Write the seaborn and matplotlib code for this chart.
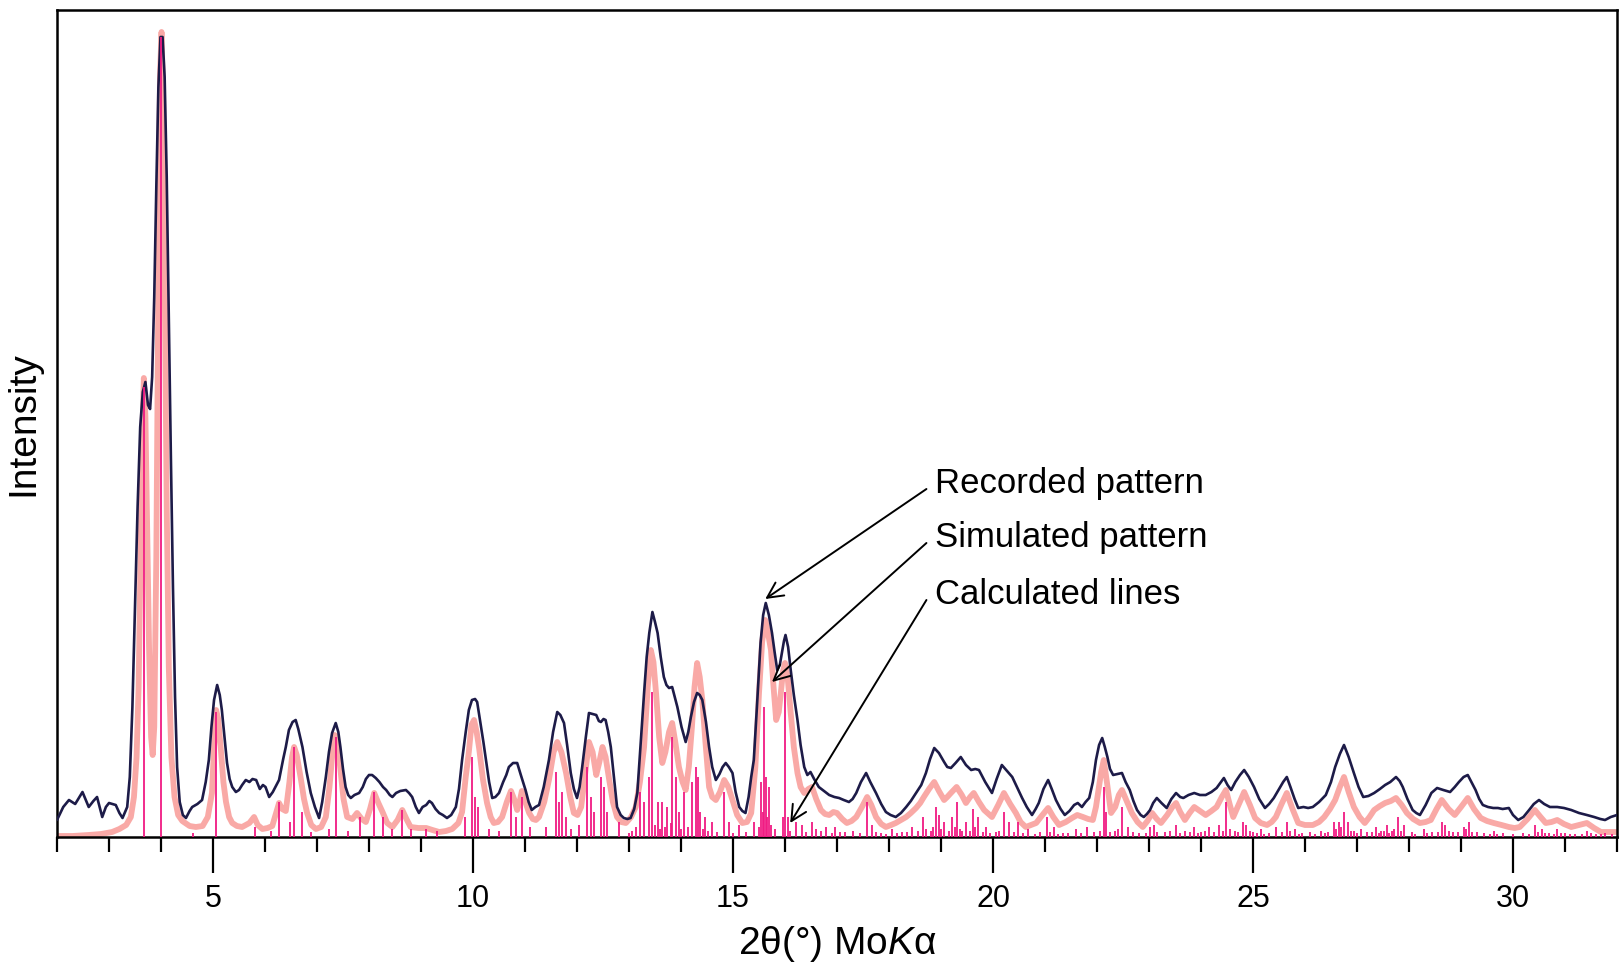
# Powder XRD: recorded vs simulated pattern with calculated reflection lines
import numpy as np
import matplotlib
matplotlib.use("Agg")
import matplotlib.pyplot as plt
from matplotlib.ticker import MultipleLocator
import seaborn as sns

# Recorded pattern (2theta in degrees, intensity in arbitrary units)
rec_theta = [2.00, 2.12, 2.23, 2.35, 2.49, 2.61, 2.70, 2.77, 2.87, 2.94, 3.00, 3.13, 3.20, 3.26,
             3.35, 3.40, 3.45, 3.50, 3.55, 3.60, 3.65, 3.70, 3.75, 3.79, 3.83, 3.87, 3.91, 3.95,
             3.99, 4.03, 4.07, 4.11, 4.15, 4.19, 4.23, 4.27, 4.31, 4.36, 4.42, 4.48,
             4.55, 4.60, 4.70, 4.79, 4.86, 4.92, 4.97, 5.02, 5.08, 5.13, 5.17, 5.22, 5.27, 5.32,
             5.37, 5.44, 5.50, 5.56, 5.63, 5.70, 5.76, 5.83, 5.90, 5.96, 6.01, 6.08, 6.15, 6.22,
             6.27, 6.35, 6.40, 6.46, 6.53, 6.59, 6.64, 6.72, 6.80, 6.88, 6.96, 7.04, 7.10, 7.17,
             7.23, 7.29, 7.36, 7.41, 7.45, 7.50, 7.55, 7.60, 7.65, 7.72, 7.81, 7.88, 7.94, 8.00,
             8.06, 8.13, 8.20, 8.27, 8.33, 8.40, 8.45, 8.52, 8.60, 8.71, 8.77, 8.83, 8.90, 8.96,
             9.03, 9.10, 9.16, 9.21, 9.28, 9.35, 9.42, 9.50, 9.58, 9.67, 9.73, 9.79, 9.86, 9.92,
             9.98, 10.04, 10.08, 10.14, 10.20, 10.25, 10.31, 10.37, 10.43, 10.50, 10.58, 10.64,
             10.69, 10.77, 10.85, 10.92, 11.01, 11.07, 11.13, 11.20, 11.27, 11.36, 11.46, 11.54,
             11.62, 11.68, 11.75, 11.81, 11.88, 11.94, 12.00, 12.05, 12.10, 12.17, 12.23, 12.30,
             12.37, 12.42, 12.46, 12.51, 12.55, 12.60, 12.65, 12.71, 12.77, 12.84, 12.90, 12.97,
             13.03, 13.10, 13.16, 13.22, 13.29, 13.34, 13.39, 13.45, 13.50, 13.55, 13.61, 13.67,
             13.72, 13.77, 13.83, 13.88, 13.93, 14.01, 14.09, 14.14, 14.19, 14.25, 14.31, 14.36,
             14.41, 14.48, 14.54, 14.60, 14.67, 14.74, 14.80, 14.86, 14.92, 14.99, 15.05, 15.12,
             15.18, 15.24, 15.30, 15.35, 15.40, 15.46, 15.53, 15.58, 15.63, 15.69, 15.75, 15.80,
             15.85, 15.90, 15.94, 15.98, 16.01, 16.06, 16.11, 16.17, 16.24, 16.30, 16.37, 16.43,
             16.49, 16.56, 16.65, 16.75, 16.85, 16.95, 17.04, 17.13, 17.23, 17.30, 17.37, 17.46,
             17.56, 17.64, 17.75, 17.85, 17.94, 18.03, 18.13, 18.23, 18.33, 18.42, 18.52, 18.62,
             18.71, 18.79, 18.87, 18.96, 19.06, 19.12, 19.19, 19.28, 19.38, 19.48, 19.58, 19.66,
             19.73, 19.85, 19.98, 20.07, 20.17, 20.27, 20.37, 20.46, 20.56, 20.65, 20.75, 20.82,
             20.88, 20.97, 21.06, 21.13, 21.21, 21.30, 21.38, 21.47, 21.56, 21.63, 21.71, 21.78,
             21.85, 21.92, 21.98, 22.04, 22.10, 22.15, 22.20, 22.25, 22.31, 22.40, 22.48, 22.55,
             22.63, 22.70, 22.77, 22.84, 22.90, 22.96, 23.02, 23.08, 23.15, 23.24, 23.34, 23.43,
             23.52, 23.60, 23.66, 23.76, 23.87, 23.98, 24.09, 24.20, 24.30, 24.37, 24.44, 24.51,
             24.58, 24.66, 24.75, 24.83, 24.92, 25.02, 25.12, 25.23, 25.31, 25.40, 25.50, 25.58,
             25.65, 25.72, 25.80, 25.87, 25.97, 26.06, 26.15, 26.27, 26.40, 26.50, 26.58, 26.67,
             26.75, 26.84, 26.94, 27.03, 27.12, 27.22, 27.33, 27.44, 27.54, 27.64, 27.75, 27.82,
             27.88, 27.97, 28.07, 28.14, 28.21, 28.32, 28.43, 28.54, 28.66, 28.79, 28.88, 28.96,
             29.05, 29.13, 29.20, 29.28, 29.35, 29.42, 29.52, 29.62, 29.71, 29.80, 29.92, 30.00,
             30.10, 30.20, 30.31, 30.40, 30.50, 30.60, 30.71, 30.85, 30.98, 31.12, 31.27, 31.42,
             31.56, 31.68, 31.77, 31.88, 32.00]
rec_int = [17, 30, 37, 33, 45, 30, 36, 40, 20, 30, 34, 32, 24, 19,
           30, 60, 130, 230, 330, 410, 445, 455, 432, 428, 460, 540, 650, 750,
           800, 800, 760, 660, 520, 380, 250, 140, 70, 35, 22, 19,
           26, 30, 33, 37, 55, 77, 110, 137, 152, 142, 127, 100, 74, 58,
           50, 45, 47, 52, 57, 55, 58, 57, 48, 52, 50, 40, 45, 52,
           57, 78, 90, 107, 115, 117, 108, 90, 65, 44, 30, 19, 35, 60,
           85, 104, 114, 105, 90, 68, 50, 42, 39, 42, 44, 50, 58, 62,
           62, 59, 55, 50, 47, 42, 40, 44, 46, 47, 44, 40, 30, 24,
           30, 32, 36, 34, 28, 24, 22, 19, 22, 30, 48, 77, 105, 127,
           137, 138, 135, 115, 95, 77, 55, 39, 40, 44, 55, 62,
           70, 74, 74, 62, 47, 35, 27, 30, 32, 50, 77, 105,
           125, 122, 114, 92, 64, 48, 39, 50, 70, 100, 124, 123,
           122, 116, 115, 118, 117, 105, 90, 60, 30, 22, 19, 18,
           19, 28, 44, 90, 144, 180, 204, 225, 215, 204, 180, 160,
           152, 149, 150, 140, 130, 110, 95, 105, 120, 135, 144, 142,
           137, 115, 90, 70, 57, 63, 70, 74, 70, 64, 45, 30,
           26, 24, 40, 60, 77, 130, 194, 222, 234, 222, 204, 185,
           167, 172, 184, 196, 202, 190, 167, 142, 117, 92, 70, 62,
           65, 58, 50, 46, 42, 40, 39, 37, 35, 38, 44, 55,
           64, 55, 44, 33, 25, 22, 20, 24, 30, 36, 44, 52,
           64, 78, 89, 84, 75, 70, 69, 74, 80, 72, 67, 68,
           67, 55, 44, 58, 72, 66, 60, 50, 39, 30, 22, 28,
           34, 48, 57, 48, 37, 28, 22, 26, 32, 34, 30, 35,
           39, 55, 77, 92, 99, 90, 80, 68, 62, 63, 64, 55,
           47, 36, 27, 22, 20, 23, 27, 34, 39, 34, 29, 38,
           44, 40, 39, 42, 44, 42, 42, 45, 49, 54, 59, 52,
           47, 55, 62, 67, 60, 50, 38, 29, 33, 39, 48, 55,
           60, 50, 38, 29, 30, 29, 30, 35, 42, 55, 70, 83,
           92, 80, 64, 50, 40, 41, 44, 48, 52, 55, 60, 56,
           50, 38, 27, 24, 22, 32, 44, 49, 47, 45, 50, 55,
           60, 62, 55, 47, 38, 32, 30, 29, 29, 28, 29, 22,
           17, 20, 27, 33, 37, 33, 30, 30, 29, 27, 24, 22,
           20, 18, 17, 20, 22]

# Simulated pattern
sim_theta = [2.00, 2.30, 2.61, 2.85, 3.06, 3.20, 3.33, 3.42, 3.48, 3.53, 3.57, 3.61, 3.64, 3.67,
             3.70, 3.73, 3.77, 3.81, 3.84, 3.87, 3.91, 3.95, 3.98, 4.01, 4.04, 4.07, 4.11, 4.15,
             4.20, 4.26, 4.33, 4.41, 4.55, 4.67, 4.80, 4.90, 4.98, 5.02, 5.06, 5.10, 5.15, 5.20,
             5.25, 5.31, 5.37, 5.46, 5.56, 5.70, 5.79, 5.86, 5.95, 6.05, 6.14, 6.22, 6.27, 6.33,
             6.40, 6.47, 6.52, 6.56, 6.61, 6.69, 6.75, 6.81, 6.89, 6.98, 7.08, 7.17, 7.24, 7.29,
             7.34, 7.38, 7.45, 7.51, 7.58, 7.68, 7.77, 7.86, 7.94, 8.02, 8.10, 8.18, 8.26, 8.35,
             8.45, 8.55, 8.64, 8.72, 8.80, 8.95, 9.10, 9.22, 9.35, 9.48, 9.60, 9.72, 9.79, 9.86,
             9.92, 9.97, 10.02, 10.07, 10.12, 10.19, 10.27, 10.34, 10.40, 10.48, 10.56, 10.65,
             10.73, 10.79, 10.85, 10.90, 10.94, 11.00, 11.08, 11.15, 11.21, 11.27, 11.37, 11.46,
             11.55, 11.62, 11.70, 11.79, 11.87, 11.94, 12.01, 12.08, 12.15, 12.23, 12.30, 12.37,
             12.43, 12.49, 12.55, 12.62, 12.69, 12.77, 12.85, 12.94, 13.04, 13.13, 13.21, 13.29,
             13.36, 13.42, 13.47, 13.52, 13.58, 13.64, 13.70, 13.77, 13.83, 13.89, 13.96, 14.03,
             14.09, 14.15, 14.21, 14.26, 14.31, 14.36, 14.41, 14.47, 14.54, 14.60, 14.67, 14.75,
             14.83, 14.91, 14.99, 15.08, 15.18, 15.27, 15.35, 15.43, 15.50, 15.56, 15.62, 15.67,
             15.73, 15.78, 15.83, 15.88, 15.92, 15.96, 16.00, 16.05, 16.11, 16.17, 16.24, 16.30,
             16.37, 16.45, 16.52, 16.60, 16.69, 16.77, 16.85, 16.93, 17.00, 17.10, 17.19, 17.28,
             17.37, 17.48, 17.58, 17.66, 17.75, 17.85, 17.94, 18.04, 18.13, 18.23, 18.33, 18.42,
             18.52, 18.60, 18.67, 18.77, 18.87, 18.96, 19.06, 19.12, 19.19, 19.30, 19.40, 19.48,
             19.56, 19.63, 19.73, 19.83, 19.98, 20.10, 20.21, 20.33, 20.44, 20.53, 20.63, 20.73,
             20.83, 20.95, 21.06, 21.16, 21.27, 21.40, 21.52, 21.62, 21.73, 21.83, 21.92, 21.98,
             22.02, 22.08, 22.13, 22.19, 22.27, 22.35, 22.42, 22.48, 22.57, 22.67, 22.78, 22.88,
             22.97, 23.06, 23.15, 23.23, 23.35, 23.45, 23.52, 23.60, 23.69, 23.78, 23.87, 23.98,
             24.09, 24.20, 24.30, 24.40, 24.48, 24.55, 24.62, 24.72, 24.83, 24.94, 25.04, 25.15,
             25.27, 25.36, 25.44, 25.55, 25.65, 25.76, 25.87, 26.00, 26.15, 26.27, 26.37, 26.48,
             26.58, 26.67, 26.75, 26.84, 26.94, 27.05, 27.15, 27.24, 27.33, 27.44, 27.54, 27.65,
             27.75, 27.86, 27.96, 28.08, 28.21, 28.32, 28.42, 28.53, 28.63, 28.76, 28.88, 29.00,
             29.13, 29.25, 29.38, 29.50, 29.63, 29.78, 29.92, 30.03, 30.13, 30.28, 30.42, 30.53,
             30.63, 30.74, 30.85, 30.98, 31.12, 31.27, 31.42, 31.56, 31.69, 31.85, 32.00]
sim_int = [1, 1, 2, 3, 5, 8, 12, 20, 40, 80, 150, 290, 400, 459,
           420, 320, 190, 100, 82, 110, 280, 560, 760, 805, 740, 560, 330, 170,
           80, 40, 22, 16, 11, 10, 11, 20, 44, 90, 127, 118, 88, 55,
           35, 20, 14, 11, 10, 14, 20, 12, 8, 9, 11, 25, 34, 28,
           26, 55, 80, 90, 82, 58, 38, 24, 12, 8, 10, 20, 50, 80,
           102, 100, 68, 38, 20, 18, 24, 18, 15, 28, 44, 34, 25, 14,
           10, 17, 27, 18, 10, 9, 9, 7, 5, 6, 8, 14, 25, 60,
           85, 112, 117, 105, 88, 58, 34, 20, 14, 15, 20, 35,
           46, 38, 27, 36, 46, 36, 24, 18, 17, 20, 35, 57,
           85, 95, 85, 64, 40, 24, 22, 30, 60, 95, 85, 62,
           75, 90, 80, 57, 35, 20, 15, 14, 20, 30, 55, 90,
           150, 187, 175, 144, 100, 74, 85, 105, 114, 95, 70, 55,
           47, 70, 110, 150, 174, 160, 137, 95, 50, 40, 37, 45,
           57, 50, 37, 22, 14, 15, 24, 70, 144, 195, 217, 205,
           187, 150, 117, 125, 144, 165, 174, 160, 124, 90, 64, 50,
           44, 48, 50, 38, 27, 23, 22, 25, 24, 18, 14, 16,
           20, 30, 40, 32, 20, 13, 10, 12, 14, 17, 20, 24,
           29, 34, 40, 48, 55, 46, 37, 40, 44, 50, 42, 34,
           40, 44, 35, 27, 20, 32, 44, 33, 24, 15, 10, 12,
           14, 22, 29, 20, 12, 15, 19, 22, 20, 18, 17, 30,
           44, 65, 77, 55, 24, 30, 42, 47, 36, 24, 15, 10,
           16, 24, 18, 14, 22, 30, 34, 25, 17, 24, 30, 26,
           22, 26, 30, 40, 47, 33, 20, 32, 45, 32, 19, 14,
           12, 15, 20, 33, 44, 28, 14, 12, 12, 15, 20, 28,
           37, 50, 60, 45, 30, 20, 14, 20, 27, 31, 34, 36,
           39, 32, 24, 18, 14, 15, 17, 28, 37, 28, 22, 30,
           39, 28, 19, 16, 14, 12, 10, 9, 10, 18, 27, 20,
           14, 15, 17, 13, 10, 12, 14, 9, 5, 5, 5]

# Calculated reflection positions and heights
line_theta = [3.68, 4.00, 4.62, 5.06, 5.80, 6.12, 6.27, 6.48, 6.56, 6.72, 6.88, 7.24, 7.36, 7.60,
              7.82, 8.10, 8.27, 8.45, 8.64, 8.80, 9.10, 9.30, 9.84, 9.98, 10.03, 10.10, 10.30,
              10.50, 10.73, 10.82, 10.94, 11.10, 11.40, 11.59, 11.65, 11.72, 11.78, 11.88, 12.04,
              12.20, 12.26, 12.33, 12.46, 12.52, 12.58, 12.81, 13.00, 13.05, 13.13, 13.22, 13.29,
              13.39, 13.45, 13.50, 13.55, 13.60, 13.64, 13.70, 13.74, 13.80, 13.83, 13.90, 13.96,
              14.00, 14.06, 14.13, 14.22, 14.28, 14.33, 14.37, 14.42, 14.47, 14.52, 14.60, 14.70,
              14.83, 14.92, 15.00, 15.12, 15.25, 15.40, 15.50, 15.53, 15.57, 15.59, 15.63, 15.66,
              15.69, 15.73, 15.80, 15.96, 16.00, 16.05, 16.10, 16.21, 16.33, 16.40, 16.52, 16.59,
              16.70, 16.78, 16.90, 16.97, 17.05, 17.15, 17.30, 17.45, 17.58, 17.68, 17.75, 17.85,
              17.95, 18.06, 18.15, 18.25, 18.35, 18.45, 18.55, 18.65, 18.72, 18.80, 18.85, 18.90,
              18.97, 19.00, 19.06, 19.15, 19.22, 19.26, 19.31, 19.36, 19.40, 19.48, 19.55, 19.61,
              19.66, 19.71, 19.80, 19.87, 19.95, 20.05, 20.12, 20.21, 20.30, 20.40, 20.49, 20.58,
              20.68, 20.80, 20.90, 21.03, 21.10, 21.17, 21.25, 21.35, 21.45, 21.59, 21.70, 21.80,
              21.95, 22.05, 22.13, 22.17, 22.25, 22.35, 22.40, 22.48, 22.59, 22.70, 22.80, 22.95,
              23.02, 23.09, 23.15, 23.30, 23.40, 23.52, 23.60, 23.70, 23.78, 23.87, 23.95, 24.00,
              24.08, 24.16, 24.25, 24.34, 24.42, 24.48, 24.55, 24.65, 24.72, 24.80, 24.87, 24.95,
              25.00, 25.08, 25.16, 25.22, 25.30, 25.44, 25.55, 25.65, 25.72, 25.80, 25.88, 25.95,
              26.10, 26.20, 26.30, 26.38, 26.45, 26.55, 26.60, 26.65, 26.70, 26.75, 26.82, 26.88,
              26.95, 27.00, 27.07, 27.20, 27.28, 27.36, 27.42, 27.47, 27.52, 27.57, 27.62, 27.68,
              27.72, 27.79, 27.84, 27.90, 28.05, 28.12, 28.28, 28.35, 28.45, 28.55, 28.63, 28.70,
              28.77, 28.85, 28.95, 29.06, 29.10, 29.16, 29.22, 29.30, 29.45, 29.55, 29.63, 29.70,
              29.80, 30.00, 30.20, 30.30, 30.42, 30.48, 30.56, 30.62, 30.70, 30.78, 30.85, 30.92,
              31.00, 31.10, 31.20, 31.32, 31.42, 31.50, 31.60, 31.70, 31.77, 31.90]
line_int = [450, 800, 4, 125, 10, 6, 35, 15, 90, 25, 5, 8, 100, 6,
            20, 45, 20, 8, 27, 8, 8, 6, 20, 80, 40, 30, 8,
            6, 45, 20, 40, 10, 10, 65, 35, 45, 20, 8, 12,
            70, 40, 25, 60, 50, 25, 15, 4, 6, 10, 45, 35,
            60, 145, 12, 35, 8, 35, 10, 30, 14, 100, 60, 25,
            8, 45, 10, 55, 70, 60, 25, 8, 20, 6, 15, 5,
            45, 15, 4, 12, 5, 15, 10, 55, 25, 130, 60, 20,
            50, 12, 8, 20, 145, 20, 6, 15, 12, 5, 15, 8,
            6, 10, 4, 10, 5, 5, 6, 4, 35, 12, 5, 4,
            3, 8, 4, 5, 5, 10, 6, 20, 8, 6, 10, 30,
            22, 8, 15, 6, 20, 10, 35, 8, 6, 15, 6, 28,
            10, 20, 5, 10, 4, 5, 6, 25, 15, 5, 15, 4,
            8, 3, 5, 20, 5, 10, 3, 4, 4, 8, 4, 10,
            5, 6, 50, 25, 5, 6, 8, 30, 10, 5, 4, 4,
            10, 12, 5, 5, 6, 12, 4, 6, 5, 10, 4, 5,
            6, 10, 5, 12, 6, 35, 8, 6, 5, 15, 12, 6,
            5, 4, 8, 3, 4, 10, 5, 15, 6, 8, 3, 4,
            5, 3, 6, 4, 5, 15, 8, 15, 10, 25, 15, 6,
            6, 4, 8, 5, 5, 10, 4, 6, 6, 12, 4, 6,
            8, 20, 6, 12, 5, 3, 8, 4, 5, 5, 15, 12,
            6, 5, 5, 10, 8, 15, 5, 5, 4, 3, 6, 3,
            4, 3, 4, 3, 12, 5, 8, 4, 4, 3, 8, 4,
            4, 3, 3, 3, 6, 4, 3, 3, 4, 3]

ticks = [5, 10, 15, 20, 25, 30]

sns.set_theme(style="white")
plt.rcParams['font.family'] = ['Liberation Sans', 'DejaVu Sans']
plt.rcParams['mathtext.fontset'] = 'custom'
plt.rcParams['mathtext.rm'] = 'Liberation Sans'
plt.rcParams['mathtext.it'] = 'Liberation Sans:italic'

fig = plt.figure(figsize=(16.2, 9.75), dpi=100)
ax = fig.add_axes([57 / 1620, 138 / 975, 1560 / 1620, 827 / 975])

# simulated pattern as a thick light pink curve
sns.lineplot(x=sim_theta, y=sim_int, ax=ax, color='#f9a9a6', lw=4.2,
             estimator=None, sort=False, zorder=2)
# recorded pattern
sns.lineplot(x=rec_theta, y=rec_int, ax=ax, color='#1d1b48', lw=1.9,
             estimator=None, sort=False, zorder=3)
# calculated lines as sticks
ax.vlines(line_theta, 0, line_int, colors='#f01a82', lw=1.3, zorder=4)

ax.set_xlim(2, 32)
ax.set_ylim(0, 827)
ax.set_xticks(ticks)
ax.set_xticklabels([str(t) for t in ticks])
ax.xaxis.set_minor_locator(MultipleLocator(1))
ax.set_yticks([])
ax.tick_params(axis='x', which='major', direction='out', length=26, width=1.6,
               pad=8, labelsize=22, bottom=True, color='black', labelcolor='black')
ax.tick_params(axis='x', which='minor', direction='out', length=10.5, width=1.6,
               bottom=True, color='black')
for s in ax.spines.values():
    s.set_color('black')
    s.set_linewidth(1.8)

ax.set_xlabel('2θ(°) Mo$K$α', fontsize=28, labelpad=7, color='black')
ax.set_ylabel('Intensity', fontsize=28, labelpad=11, color='black')

# annotations
labels = ['Recorded pattern', 'Simulated pattern', 'Calculated lines']
text_y = [354, 300, 243]
heads = [(15.62, 238), (15.75, 155), (16.10, 14)]
for lab, ty, hd in zip(labels, text_y, heads):
    ax.text(18.88, ty, lab, fontsize=25, ha='left', va='center', color='black')
    ax.annotate('', xy=hd, xytext=(18.72, ty - 6),
                arrowprops=dict(arrowstyle='->', color='black', lw=1.4,
                                shrinkA=0, shrinkB=0, mutation_scale=28))

fig.savefig('out.png', dpi=100)
